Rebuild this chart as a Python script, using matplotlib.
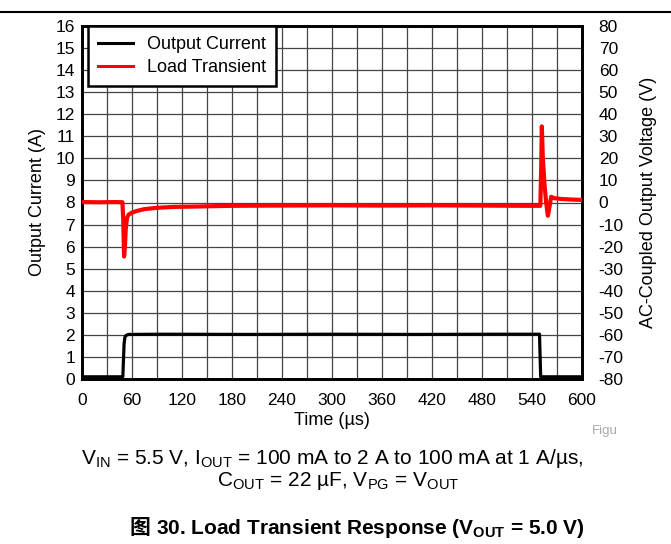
"""
Load transient response: output current and AC-coupled output voltage.
"""

import matplotlib
matplotlib.use('Agg')
import matplotlib.pyplot as plt

plt.rcParams['font.family'] = ['Liberation Sans', 'DejaVu Sans']
plt.rcParams['mathtext.fontset'] = 'custom'
plt.rcParams['mathtext.rm'] = 'Liberation Sans'
plt.rcParams['mathtext.bf'] = 'Liberation Sans:bold'
plt.rcParams['axes.unicode_minus'] = False

# Output current (A) vs time (us)
current_t = [0, 49, 49.8, 50.5, 51.5, 53, 56, 100, 200, 300, 400, 500, 549, 549.6, 550.4, 600]
current_a = [0.1, 0.1, 0.9, 1.6, 1.9, 1.98, 2.02, 2.03, 2.02, 2.03, 2.02, 2.03, 2.03, 1.2, 0.1, 0.1]

# AC-coupled output voltage vs time (us)
volt_t = [0, 20, 40, 48.5, 49.5, 50.5, 51.5, 52.5, 54, 56, 60, 66, 75, 90, 110, 140, 180,
          230, 300, 360, 420, 480, 530, 550, 551, 551.8, 553, 555, 557, 559, 561,
          563, 566, 575, 590, 600]
volt_mv = [0.2, 0.1, 0.2, 0.1, -8, -24.5, -20, -12, -7, -5.5, -4.6, -3.8, -3.0, -2.4, -2.0,
           -1.8, -1.5, -1.4, -1.3, -1.4, -1.3, -1.4, -1.5, -1.5, 15, 34.5, 20, 8, 0, -6,
           -2, 2.6, 2.0, 1.6, 1.3, 1.2]

time_ticks = list(range(0, 601, 60))
current_ticks = list(range(0, 17))
volt_ticks = list(range(-80, 81, 10))

W, H = 671, 544


def fx(px):
    return px / W


def fy(py):
    return 1 - py / H


fig = plt.figure(figsize=(W / 100, H / 100), dpi=100)
ax = fig.add_axes([fx(82), fy(379), (582 - 82) / W, (379 - 26) / H])
ax2 = ax.twinx()

# grid
for t in range(0, 601, 30):
    ax.axvline(t, color='#444444', lw=0.9, zorder=0)
for a in range(0, 17):
    ax.axhline(a, color='#444444', lw=0.9, zorder=0)

l1, = ax.plot(current_t, current_a, color='black', lw=2.3, zorder=3)
l2, = ax2.plot(volt_t, volt_mv, color='#ff0000', lw=3.0, zorder=3)

ax.set_xlim(0, 600)
ax.set_ylim(0, 16)
ax2.set_ylim(-80, 80)
ax.set_xticks(time_ticks)
ax.set_yticks(current_ticks)
ax2.set_yticks(volt_ticks)
ax.tick_params(axis='x', length=0, pad=10, labelsize=12.5)
ax.tick_params(axis='y', length=0, pad=5, labelsize=12.5)
ax2.tick_params(length=0, pad=12, labelsize=12.5)

for a_ in (ax, ax2):
    for s in a_.spines.values():
        s.set_linewidth(2)

ax.set_xlabel('Time (µs)', fontsize=13, labelpad=3)
ax.set_ylabel('Output Current (A)', fontsize=13, labelpad=7)
ax2.set_ylabel('AC-Coupled Output Voltage (V)', fontsize=13, labelpad=12)

leg = ax2.legend([l1, l2], ['Output Current', 'Load Transient'],
                 loc='upper left', bbox_to_anchor=(0.012, 1.0), borderaxespad=0,
                 fontsize=13, frameon=True, fancybox=False, handlelength=1.95,
                 handletextpad=0.75, borderpad=0.55, labelspacing=0.34)
leg.get_frame().set_edgecolor('black')
leg.get_frame().set_linewidth(1.8)
leg.get_frame().set_alpha(1)
for h in leg.get_lines():
    h.set_linewidth(2.2)

# page decoration
fig.add_artist(plt.Line2D([0, 1], [fy(12), fy(12)], color='black', lw=1.5))
fig.text(fx(592), fy(431), 'Figu', color='#aaaaaa', fontsize=9.5, va='center')

fig.text(fx(332), fy(458),
         r'V$_{\mathrm{IN}}$ = 5.5 V, I$_{\mathrm{OUT}}$ = 100 mA to 2 A to 100 mA at 1 A/µs,',
         ha='center', va='center', fontsize=15)
fig.text(fx(338), fy(481),
         r'C$_{\mathrm{OUT}}$ = 22 µF, V$_{\mathrm{PG}}$ = V$_{\mathrm{OUT}}$',
         ha='center', va='center', fontsize=15)
fig.text(fx(150), fy(528), '图', ha='right', va='center', fontsize=15,
         fontweight='bold', family=['Noto Sans CJK SC', 'DejaVu Sans'])
fig.text(fx(156), fy(528),
         r'30. Load Transient Response (V$_{\mathbf{OUT}}$ = 5.0 V)',
         ha='left', va='center', fontsize=15, fontweight='bold')

fig.savefig('out.png', dpi=100)
